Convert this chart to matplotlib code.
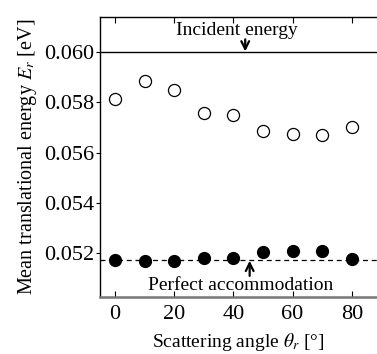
import numpy as np
import matplotlib.pyplot as plt

plt.rcParams['font.family'] = ['Liberation Serif', 'DejaVu Serif']
plt.rcParams['mathtext.fontset'] = 'stix'

# scattering angle (deg)
angle = [0, 10, 20, 30, 40, 50, 60, 70, 80]
# mean translational energy of scattered atoms (eV)
energy_open = [0.05814, 0.05885, 0.05847, 0.05758, 0.05748, 0.05684, 0.05675, 0.05671, 0.05703]
energy_filled = [0.05172, 0.05170, 0.05169, 0.05183, 0.05183, 0.05204, 0.05208, 0.05209, 0.05179]
incident_energy = 0.0600
accommodation_energy = 0.05172

fig = plt.figure(figsize=(3.77, 3.54), dpi=100)
ax = fig.add_axes([0.265, 0.161, 0.735, 0.791])

ax.axhline(incident_energy, color='black', linewidth=1.0)
ax.axhline(accommodation_energy, color='black', linewidth=0.9, linestyle=(0, (4, 3)))

ax.plot(angle, energy_open, 'o', markersize=8.7, markerfacecolor='white',
        markeredgecolor='black', markeredgewidth=0.9, clip_on=False)
ax.plot(angle, energy_filled, 'o', markersize=8.5, color='black', clip_on=False)

ax.text(41.2, 0.06085, 'Incident energy', fontsize=14, ha='center', va='center')
ax.annotate('', xy=(44, incident_energy + 0.00002), xytext=(44, 0.06050),
            arrowprops=dict(arrowstyle='->', color='black', lw=1.6,
                            mutation_scale=14, shrinkA=0, shrinkB=0))
ax.text(42.5, 0.05072, 'Perfect accommodation', fontsize=14, ha='center', va='center')
ax.annotate('', xy=(45.5, accommodation_energy - 0.00002), xytext=(45.5, 0.05110),
            arrowprops=dict(arrowstyle='->', color='black', lw=1.6,
                            mutation_scale=14, shrinkA=0, shrinkB=0))

ax.set_xlim(-5.07, 88.5)
ax.set_ylim(0.05026, 0.06139)
ax.set_xticks([0, 20, 40, 60, 80])
ax.set_yticks([0.052, 0.054, 0.056, 0.058, 0.060])
ax.set_yticklabels(['0.052', '0.054', '0.056', '0.058', '0.060'])

ax.tick_params(axis='x', direction='in', top=True, length=4, width=0.8, labelsize=16, pad=6)
ax.tick_params(axis='y', direction='out', length=3, width=0.8, labelsize=16, pad=1)

ax.spines['right'].set_visible(False)
ax.spines['bottom'].set_color('#777777')
ax.spines['bottom'].set_linewidth(1.8)
ax.spines['left'].set_linewidth(1.0)
ax.spines['top'].set_linewidth(1.0)

ax.set_xlabel(r'Scattering angle $\theta_r$ [°]', fontsize=14, labelpad=5)
ax.set_ylabel(r'Mean translational energy $E_r$ [eV]', fontsize=14.5, labelpad=4)

plt.savefig('out.png', dpi=100)
